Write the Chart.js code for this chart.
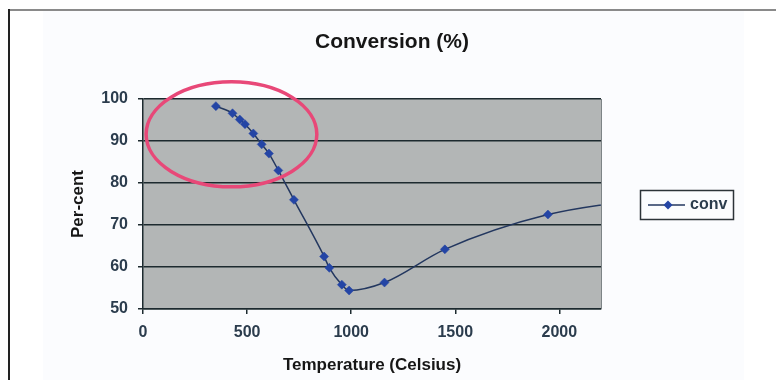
<!DOCTYPE html>
<html><head><meta charset="utf-8">
<script src="https://cdn.jsdelivr.net/npm/chart.js@4.4.0/dist/chart.umd.min.js"></script>
<style>
html,body{margin:0;padding:0;background:#fff;}
#wrap{position:relative;width:776px;height:380px;overflow:hidden;}
#tint{position:absolute;left:43px;top:11px;width:701px;bottom:0;background:#fbfcfe;}
#frameTop{position:absolute;left:8px;top:9px;right:0;height:2px;background:#8a8a8a;}
#frameLeft{position:absolute;left:8px;top:9px;width:2px;bottom:0;background:#222;}
canvas{position:absolute;left:0;top:0;}
</style></head><body>
<div id="wrap"><div id="tint"></div><div id="frameTop"></div><div id="frameLeft"></div><canvas id="c" width="776" height="380"></canvas></div>
<script>
const chartTitle = 'Conversion (%)';
const xAxisTitle = 'Temperature (Celsius)';
const yAxisTitle = 'Per-cent';
const seriesName = 'conv';
const temperatures = [350, 430, 465, 490, 530, 570, 605, 650, 725, 870, 895, 955, 990, 1160, 1450, 1945, 2500];
const conversion   = [98.3, 96.6, 95.1, 94.0, 91.8, 89.2, 87.0, 83.0, 76.0, 62.5, 59.8, 55.8, 54.4, 56.3, 64.2, 72.5, 76.8];
const xTicks = [0, 500, 1000, 1500, 2000];
const yTicks = [50, 60, 70, 80, 90, 100];
const highlightCenter = [425, 91.6];
const highlightRadii = [410, 12.5];

const FONT = '"Liberation Sans", Arial, sans-serif';
const LINE_COLOR = '#23375f';
const MARK_COLOR = '#2445a5';
const TICK_COLOR = '#2b3c4d';
const GRID_COLOR = '#1d2a2f';

const decor = {
  id: 'decor',
  beforeDraw(chart) {
    const {ctx, chartArea: a} = chart;
    ctx.save();
    ctx.fillStyle = '#b3b6b6';
    ctx.fillRect(a.left, a.top, a.right - a.left, a.bottom - a.top);
    ctx.restore();
  },
  afterDraw(chart) {
    const {ctx, chartArea: a, scales} = chart;
    ctx.save();
    ctx.strokeStyle = '#7d8486';
    ctx.lineWidth = 1;
    ctx.beginPath();
    ctx.moveTo(a.right + 0.5, a.top);
    ctx.lineTo(a.right + 0.5, a.bottom);
    ctx.stroke();
    ctx.fillStyle = '#161616';
    ctx.font = 'bold 21px ' + FONT;
    ctx.textAlign = 'center';
    ctx.textBaseline = 'middle';
    ctx.fillText(chartTitle, (a.left + a.right) / 2 + 20, 42);
    const lx = a.right + 39, ly = a.top + 91, lw = 93, lh = 29;
    ctx.strokeStyle = '#2c3338';
    ctx.lineWidth = 1.5;
    ctx.strokeRect(lx + 0.5, ly + 0.5, lw, lh);
    const my = ly + lh / 2 + 0.5;
    ctx.strokeStyle = LINE_COLOR;
    ctx.lineWidth = 1.5;
    ctx.beginPath();
    ctx.moveTo(lx + 8, my);
    ctx.lineTo(lx + 45, my);
    ctx.stroke();
    ctx.fillStyle = MARK_COLOR;
    const mx = lx + 28;
    ctx.beginPath();
    ctx.moveTo(mx, my - 4.5); ctx.lineTo(mx + 4.5, my); ctx.lineTo(mx, my + 4.5); ctx.lineTo(mx - 4.5, my);
    ctx.closePath();
    ctx.fill();
    ctx.fillStyle = TICK_COLOR;
    ctx.font = 'bold 16px ' + FONT;
    ctx.textAlign = 'left';
    ctx.fillText(seriesName, lx + 50, my);
    const xs = scales.x, ys = scales.y;
    const cx = xs.getPixelForValue(highlightCenter[0]);
    const cy = ys.getPixelForValue(highlightCenter[1]);
    const rx = Math.abs(xs.getPixelForValue(highlightCenter[0] + highlightRadii[0]) - cx);
    const ry = Math.abs(ys.getPixelForValue(highlightCenter[1] + highlightRadii[1]) - cy);
    ctx.strokeStyle = '#e84878';
    ctx.lineWidth = 3.5;
    ctx.beginPath();
    ctx.ellipse(cx, cy, rx, ry, 0, 0, Math.PI * 2);
    ctx.stroke();
    ctx.restore();
  }
};

new Chart(document.getElementById('c'), {
  type: 'line',
  data: {
    datasets: [{
      label: seriesName,
      data: temperatures.map((t, i) => ({x: t, y: conversion[i]})),
      borderColor: LINE_COLOR,
      borderWidth: 1.5,
      cubicInterpolationMode: 'monotone',
      pointStyle: 'rectRot',
      pointRadius: 4.5,
      pointBackgroundColor: MARK_COLOR,
      pointBorderColor: MARK_COLOR,
      pointBorderWidth: 0.5,
      fill: false
    }]
  },
  options: {
    responsive: false,
    animation: false,
    events: [],
    layout: {padding: {top: 99, right: 175, left: 0, bottom: 0}},
    plugins: {legend: {display: false}, title: {display: false}, tooltip: {enabled: false}},
    scales: {
      x: {
        type: 'linear', min: 0, max: 2200,
        afterBuildTicks: s => { s.ticks = xTicks.map(v => ({value: v})); },
        afterFit: s => { s.height = 71; },
        ticks: {color: TICK_COLOR, font: {family: FONT, size: 16, weight: 'bold'}, padding: 9, maxRotation: 0, callback: v => String(v)},
        grid: {drawOnChartArea: false, drawTicks: true, tickLength: 5, color: GRID_COLOR, lineWidth: 1.5},
        border: {display: true, color: GRID_COLOR, width: 1.5},
        title: {display: true, text: xAxisTitle, color: '#161616', font: {family: FONT, size: 17, weight: 'bold'}, padding: {top: 0, bottom: 4}}
      },
      y: {
        type: 'linear', min: 50, max: 100,
        afterBuildTicks: s => { s.ticks = yTicks.map(v => ({value: v})); },
        afterFit: s => { s.width = 143; },
        ticks: {color: TICK_COLOR, font: {family: FONT, size: 16, weight: 'bold'}, padding: 10, callback: v => String(v)},
        grid: {drawTicks: true, tickLength: 5, color: GRID_COLOR, lineWidth: 1.5},
        border: {display: true, color: GRID_COLOR, width: 1.5},
        title: {display: true, text: yAxisTitle, color: '#161616', font: {family: FONT, size: 17, weight: 'bold'}, padding: {top: 68, bottom: 0}}
      }
    }
  },
  plugins: [decor]
});
</script>
</body></html>
